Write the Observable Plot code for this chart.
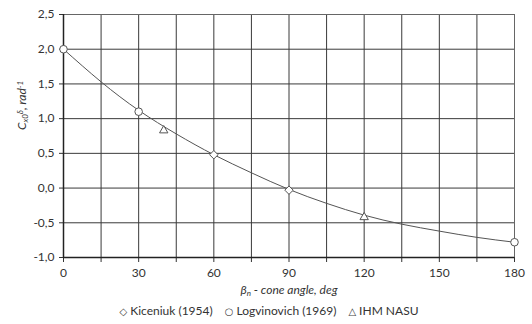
<!DOCTYPE html>
<html>
<head>
<meta charset="utf-8">
<script src="https://cdn.jsdelivr.net/npm/d3@7"></script>
<script src="https://cdn.jsdelivr.net/npm/@observablehq/plot@0.6"></script>
<style>
  body { margin: 0; background: #fff; font-family: Lato, "Open Sans", sans-serif; }
  #legend { width: 532px; height: 28px; display: flex; justify-content: center; align-items: center; gap: 12px; font-size: 12px; color: #333; padding-left: 6px; box-sizing: border-box; }
  #legend span.sym { font-family: "DejaVu Sans"; font-size: 10px; margin-right: 3px; color: #444; }
</style>
</head>
<body>
<div id="chart"></div>
<div id="legend"></div>
<script>
// Data
const kiceniukAngle = [60, 90];
const kiceniukValue = [0.48, -0.03];
const logvinovichAngle = [0, 30, 180];
const logvinovichValue = [2.0, 1.1, -0.78];
const ihmAngle = [40, 120];
const ihmValue = [0.83, -0.42];
const curveAngle = [0, 15, 30, 45, 60, 75, 90, 105, 120, 135, 150, 165, 180];
const curveValue = [2.0, 1.53, 1.12, 0.78, 0.48, 0.22, -0.02, -0.22, -0.39, -0.52, -0.62, -0.71, -0.78];
const xTicks = [0, 15, 30, 45, 60, 75, 90, 105, 120, 135, 150, 165, 180];
const yTicks = [-1.0, -0.5, 0.0, 0.5, 1.0, 1.5, 2.0, 2.5];
const seriesNames = ["Kiceniuk (1954)", "Logvinovich (1969)", "IHM NASU"];
const seriesSymbols = ["◇", "○", "△"];
// label pieces: [text, role] where role is "", "sub" or "sup"
const xLabelParts = [["β", ""], ["n", "sub"], [" - cone angle, deg", ""]];
const yLabelParts = [["C", ""], ["x0", "sub"], ["δ", "sup"], [", rad", ""], ["-1", "sup"]];

const toRows = (xs, ys) => xs.map((x, i) => ({x, y: ys[i]}));
const curve = toRows(curveAngle, curveValue);
const kic = toRows(kiceniukAngle, kiceniukValue);
const log = toRows(logvinovichAngle, logvinovichValue);
const ihm = toRows(ihmAngle, ihmValue);
const plain = parts => parts.map(p => p[0]).join("");

const font = "Lato, 'Open Sans', sans-serif";
const chart = Plot.plot({
  width: 532,
  height: 296,
  marginTop: 14,
  marginLeft: 63,
  marginRight: 18,
  marginBottom: 39,
  style: {fontFamily: font, fontSize: "12px", color: "#333", background: "#fff"},
  x: {domain: [0, 180], label: null},
  y: {domain: [-1, 2.5], label: null},
  marks: [
    Plot.gridX(xTicks, {stroke: "#3a3a3a", strokeOpacity: 1, strokeWidth: 1}),
    Plot.gridY(yTicks, {stroke: "#3a3a3a", strokeOpacity: 1, strokeWidth: 1}),
    Plot.frame({stroke: "#666", strokeWidth: 1}),
    Plot.axisX(xTicks, {tickSize: 5, tickPadding: 6, stroke: "#333", tickFormat: d => d % 30 === 0 ? String(d) : "", fontSize: 12, fill: "#333", label: null}),
    Plot.axisY(yTicks, {tickSize: 4, tickPadding: 5, stroke: "#333", tickFormat: d => d.toFixed(1).replace(".", ","), fontSize: 12, fill: "#333", label: null}),
    Plot.ruleX([0], {stroke: "#222", strokeWidth: 1.5}),
    Plot.ruleY([-1], {stroke: "#222", strokeWidth: 1.5}),
    Plot.line(curve, {x: "x", y: "y", curve: "natural", stroke: "#555", strokeWidth: 1}),
    Plot.dot(kic, {x: "x", y: "y", symbol: "diamond2", r: 3.8, stroke: "#555", fill: "white", strokeWidth: 1}),
    Plot.dot(log, {x: "x", y: "y", symbol: "circle", r: 3.8, stroke: "#555", fill: "white", strokeWidth: 1}),
    Plot.dot(ihm, {x: "x", y: "y", symbol: "triangle2", r: 4, stroke: "#555", fill: "white", strokeWidth: 1}),
    Plot.text([plain(xLabelParts)], {frameAnchor: "bottom", dy: 36, text: d => d, fontStyle: "italic", fontSize: 12, fill: "#333", className: "xlab"}),
    Plot.text([plain(yLabelParts)], {frameAnchor: "left", dx: -41, dy: -6, rotate: -90, text: d => d, fontStyle: "italic", fontSize: 12, fill: "#333", className: "ylab"})
  ]
});
document.getElementById("chart").appendChild(chart);

// rich text for the axis labels (subscripts / superscripts)
function richen(selector, parts) {
  const t = chart.querySelector(selector + " text");
  if (!t) return;
  t.textContent = "";
  parts.forEach(([s, role]) => {
    const ts = document.createElementNS("http://www.w3.org/2000/svg", "tspan");
    ts.textContent = s;
    if (role === "sub") { ts.setAttribute("baseline-shift", "-25%"); ts.setAttribute("font-size", "8"); }
    if (role === "sup") { ts.setAttribute("baseline-shift", "40%"); ts.setAttribute("font-size", "8"); }
    t.appendChild(ts);
  });
}
richen(".xlab", xLabelParts);
richen(".ylab", yLabelParts);

const legend = document.getElementById("legend");
seriesNames.forEach((name, i) => {
  const item = document.createElement("div");
  const sym = document.createElement("span");
  sym.className = "sym";
  sym.textContent = seriesSymbols[i];
  item.appendChild(sym);
  item.appendChild(document.createTextNode(name));
  legend.appendChild(item);
});
</script>
</body>
</html>
